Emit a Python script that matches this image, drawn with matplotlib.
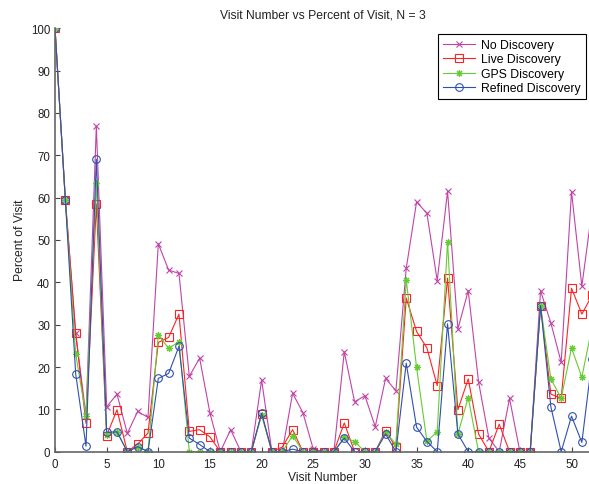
import numpy as np
import matplotlib
matplotlib.use('Agg')
import matplotlib.pyplot as plt

plt.rcParams['font.family'] = ['Liberation Sans', 'DejaVu Sans']

# Visit numbers 0..52
visits = np.arange(53)

no_discovery = [100, 59.5, 28.0, 8.5, 76.9, 10.6, 13.6, 4.3, 9.5, 8.1,
                49.1, 42.9, 42.1, 17.8, 22.1, 9.1, 0, 5.2, 0, 0,
                16.9, 0, 0, 13.8, 9.2, 0.6, 0, 0, 23.6, 11.8,
                13.2, 5.9, 17.3, 14.4, 43.3, 59.0, 56.3, 40.4, 61.5, 29.0,
                38.0, 16.5, 3.2, 0, 12.6, 0, 0, 38.0, 30.4, 21.1,
                61.4, 39.1, 57.4]
live_discovery = [100, 59.5, 28.0, 6.7, 58.5, 3.8, 9.9, 0, 1.8, 4.4,
                  25.8, 27.0, 32.5, 4.8, 5.2, 3.5, 0, 0, 0, 0,
                  8.9, 0, 1.1, 5.2, 0, 0, 0, 0, 6.8, 0,
                  0, 0, 5.0, 1.0, 36.3, 28.4, 24.5, 15.6, 41.0, 9.9,
                  17.2, 4.2, 0, 6.5, 0, 0, 0, 34.5, 13.6, 12.6,
                  38.6, 32.5, 37.0]
gps_discovery = [100, 59.5, 23.1, 8.5, 63.5, 4.0, 4.7, 0, 1.2, 0,
                 27.6, 24.4, 26.0, 0, 0, 0, 0, 0, 0, 0,
                 8.7, 0, 0, 3.8, 0, 0, 0, 0, 3.4, 2.4,
                 0, 0, 4.6, 1.8, 40.6, 19.9, 2.5, 4.7, 49.6, 4.2,
                 12.8, 0, 0, 0, 0, 0, 0, 34.5, 17.2, 12.6,
                 24.5, 17.6, 29.6]
refined_discovery = [100, 59.5, 18.4, 1.3, 69.1, 4.6, 4.7, 0, 1.2, 0,
                     17.3, 18.5, 24.9, 3.2, 1.7, 0, 0, 0, 0, 0,
                     9.1, 0, 0, 0.6, 0, 0, 0, 0, 3.2, 0,
                     0, 0, 4.2, 0, 20.9, 5.8, 2.4, 0, 30.2, 4.2,
                     0, 0, 0, 0, 0, 0, 0, 34.5, 10.6, 0,
                     8.4, 2.2, 22.0]

# label, values, colour, marker, fill, marker size
series = [
    ("No Discovery", no_discovery, '#c044a8', 'x', 'full', 4.0),
    ("Live Discovery", live_discovery, '#ff2222', 's', 'none', 5.5),
    ("GPS Discovery", gps_discovery, '#66cc33', (8, 2, 0), 'full', 5.0),
    ("Refined Discovery", refined_discovery, '#3050b0', 'o', 'none', 5.5),
]

fig = plt.figure(figsize=(5.89, 4.85), dpi=100)
ax = fig.add_axes([0.0934, 0.0666, 0.912, 0.873])

for label, vals, color, marker, fill, msize in series:
    ax.plot(visits, vals, color=color, marker=marker, fillstyle=fill,
            markersize=msize, markeredgewidth=0.8, linewidth=0.8, label=label)

ax.set_xlim(0, 52)
ax.set_ylim(0, 100)
ax.set_xticks(np.arange(0, 51, 5))
ax.set_yticks(np.arange(0, 101, 10))
ax.tick_params(direction='in', length=3.5, width=0.8, color='#444444',
               labelsize=8.3, labelcolor='#222222')
ax.tick_params(axis='x', pad=4.5)
ax.tick_params(axis='y', pad=3.5)
for side in ('top', 'right'):
    ax.spines[side].set_visible(False)
for side in ('left', 'bottom'):
    ax.spines[side].set_color('#666666')
    ax.spines[side].set_linewidth(1.2)

fig.text(323 / 589, 1 - 15.7 / 485, "Visit Number vs Percent of Visit, N = 3",
         ha='center', va='center', fontsize=8.7, color='#222222')
fig.text(323 / 589, 1 - 477.7 / 485, "Visit Number",
         ha='center', va='center', fontsize=8.7, color='#222222')
fig.text(20 / 589, 1 - 240 / 485, "Percent of Visit", rotation=90,
         ha='center', va='center', fontsize=8.7, color='#222222')

leg = ax.legend(loc='upper left', bbox_to_anchor=(438 / 589, 1 - 35 / 485),
                bbox_transform=fig.transFigure, fontsize=8.8, frameon=True,
                fancybox=False, edgecolor='black', framealpha=1,
                handlelength=2.6, borderpad=0.4, labelspacing=0.2,
                handletextpad=0.55, borderaxespad=0)
leg.get_frame().set_linewidth(0.8)

fig.savefig('out.png', dpi=100)
